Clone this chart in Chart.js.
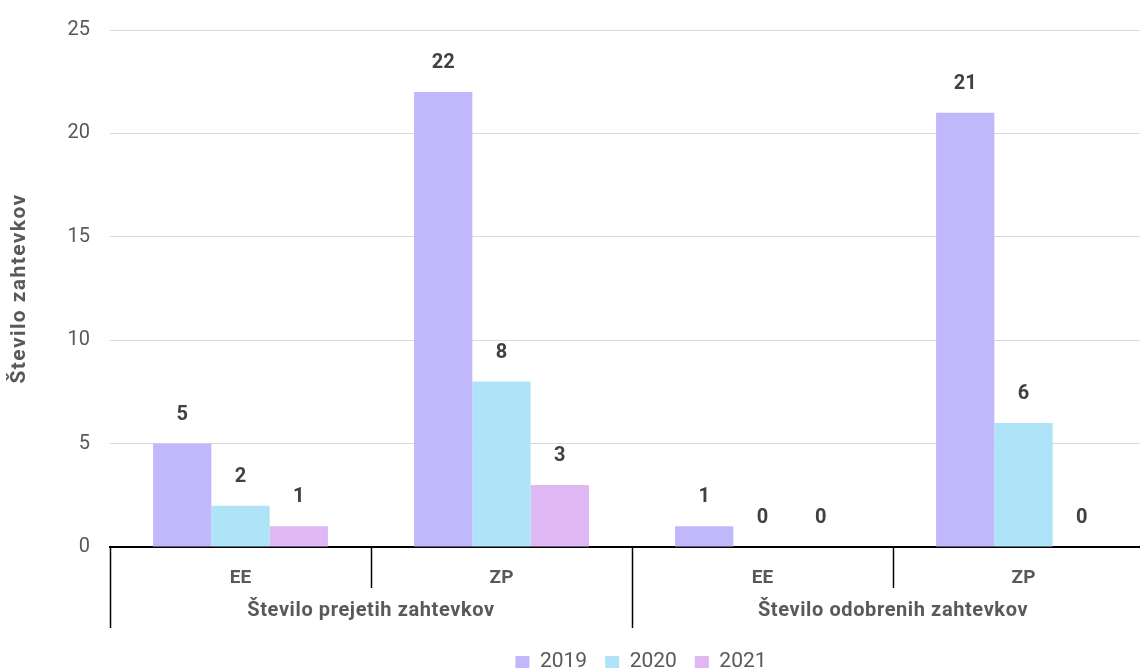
<!DOCTYPE html>
<html>
<head>
<meta charset="utf-8">
<script src="https://cdn.jsdelivr.net/npm/chart.js@4/dist/chart.umd.min.js"></script>
<style>
  html, body { margin: 0; padding: 0; overflow: hidden; background: #fff; }
  #wrap { position: relative; width: 1154px; height: 669px; }
</style>
</head>
<body>
<div id="wrap"><canvas id="chart"></canvas></div>
<script>
// categories (lower level) and their groups (upper level)
const categories = ['EE', 'ZP', 'EE', 'ZP'];
const groups = ['Število prejetih zahtevkov', 'Število odobrenih zahtevkov'];
const groupSize = 2;
const yTitle = 'Število zahtevkov';

// series
const years = ['2019', '2020', '2021'];
const values2019 = [5, 22, 1, 21];
const values2020 = [2, 8, 0, 6];
const values2021 = [1, 3, 0, 0];
const yTicks = [0, 5, 10, 15, 20, 25];

const colors = ['#c1b8fc', '#afe3f8', '#dfb7f2'];
const textColor = '#595959';
const legendPad = 18;
const legendFont = 21;

// value labels, two-level category axis, y title, legend position
const extras = {
    id: 'extras',
    afterLayout(chart) {
        const lg = chart.legend;
        const dy = (chart.height - 7 - legendPad - legendFont / 2) - lg.top;
        lg.top += dy; lg.bottom += dy;
        lg.left += 64; lg.right += 64;
    },
    afterDatasetsDraw(chart) {
        const ctx = chart.ctx;
        ctx.save();
        ctx.font = 'bold 20px Roboto';
        ctx.fillStyle = '#404040';
        ctx.textAlign = 'center';
        ctx.textBaseline = 'middle';
        chart.data.datasets.forEach((ds, i) => {
            chart.getDatasetMeta(i).data.forEach((bar, j) => {
                ctx.fillText(ds.data[j], bar.x, bar.y - 29);
            });
        });
        ctx.restore();
    },
    afterDraw(chart) {
        const x = chart.scales.x;
        const ctx = chart.ctx;
        const area = chart.chartArea;
        const step = x.getPixelForValue(1) - x.getPixelForValue(0);
        const y0 = x.top;
        ctx.save();
        ctx.strokeStyle = '#000';
        ctx.lineWidth = 1.5;
        for (let i = 0; i <= categories.length; i++) {
            const px = Math.round(x.getPixelForValue(0) - step / 2 + i * step) + 0.5;
            const len = (i % groupSize === 0) ? 81 : 41;
            ctx.beginPath();
            ctx.moveTo(px, y0);
            ctx.lineTo(px, y0 + len);
            ctx.stroke();
        }
        ctx.font = 'bold 20px Roboto';
        ctx.letterSpacing = '0.6px';
        ctx.fillStyle = textColor;
        ctx.textAlign = 'center';
        ctx.textBaseline = 'middle';
        groups.forEach((g, k) => {
            const a = x.getPixelForValue(k * groupSize);
            const b = x.getPixelForValue(k * groupSize + groupSize - 1);
            ctx.fillText(g, (a + b) / 2, y0 + 64);
        });
        // y axis title
        ctx.font = 'bold 21px Roboto';
        ctx.letterSpacing = '1.4px';
        ctx.translate(20, (area.top + area.bottom) / 2);
        ctx.rotate(-Math.PI / 2);
        ctx.fillText(yTitle, 0, 0);
        ctx.restore();
    }
};

const ctx = document.getElementById('chart').getContext('2d');
const chart = new Chart(ctx, {
    type: 'bar',
    data: {
        labels: categories,
        datasets: [
            { label: years[0], data: values2019, backgroundColor: colors[0] },
            { label: years[1], data: values2020, backgroundColor: colors[1] },
            { label: years[2], data: values2021, backgroundColor: colors[2] }
        ]
    },
    options: {
        responsive: true,
        maintainAspectRatio: false,
        animation: false,
        layout: { padding: { top: 23, left: 0, right: 0, bottom: 0 } },
        datasets: {
            bar: { barPercentage: 1, categoryPercentage: 0.67 }
        },
        plugins: {
            tooltip: { enabled: false },
            legend: {
                position: 'bottom',
                labels: {
                    boxWidth: 14,
                    boxHeight: 12,
                    padding: legendPad,
                    color: textColor,
                    font: { family: 'Roboto', size: legendFont, lineHeight: 1 }
                }
            }
        },
        scales: {
            x: {
                grid: { display: false },
                border: { display: true, color: '#000', width: 2 },
                ticks: {
                    color: textColor,
                    padding: 12,
                    font: { family: 'Roboto', size: 19, weight: 'bold' }
                },
                afterFit(scale) { scale.height = 73; }
            },
            y: {
                min: 0,
                max: 25,
                border: { display: false },
                grid: { color: '#d9d9d9', lineWidth: 1, drawTicks: false },
                ticks: {
                    color: textColor,
                    padding: 20,
                    font: { family: 'Roboto', size: 20, lineHeight: 1 }
                },
                afterBuildTicks(scale) { scale.ticks = yTicks.map(v => ({ value: v })); },
                afterFit(scale) { scale.width = 110; }
            }
        }
    },
    plugins: [extras]
});
</script>
</body>
</html>
